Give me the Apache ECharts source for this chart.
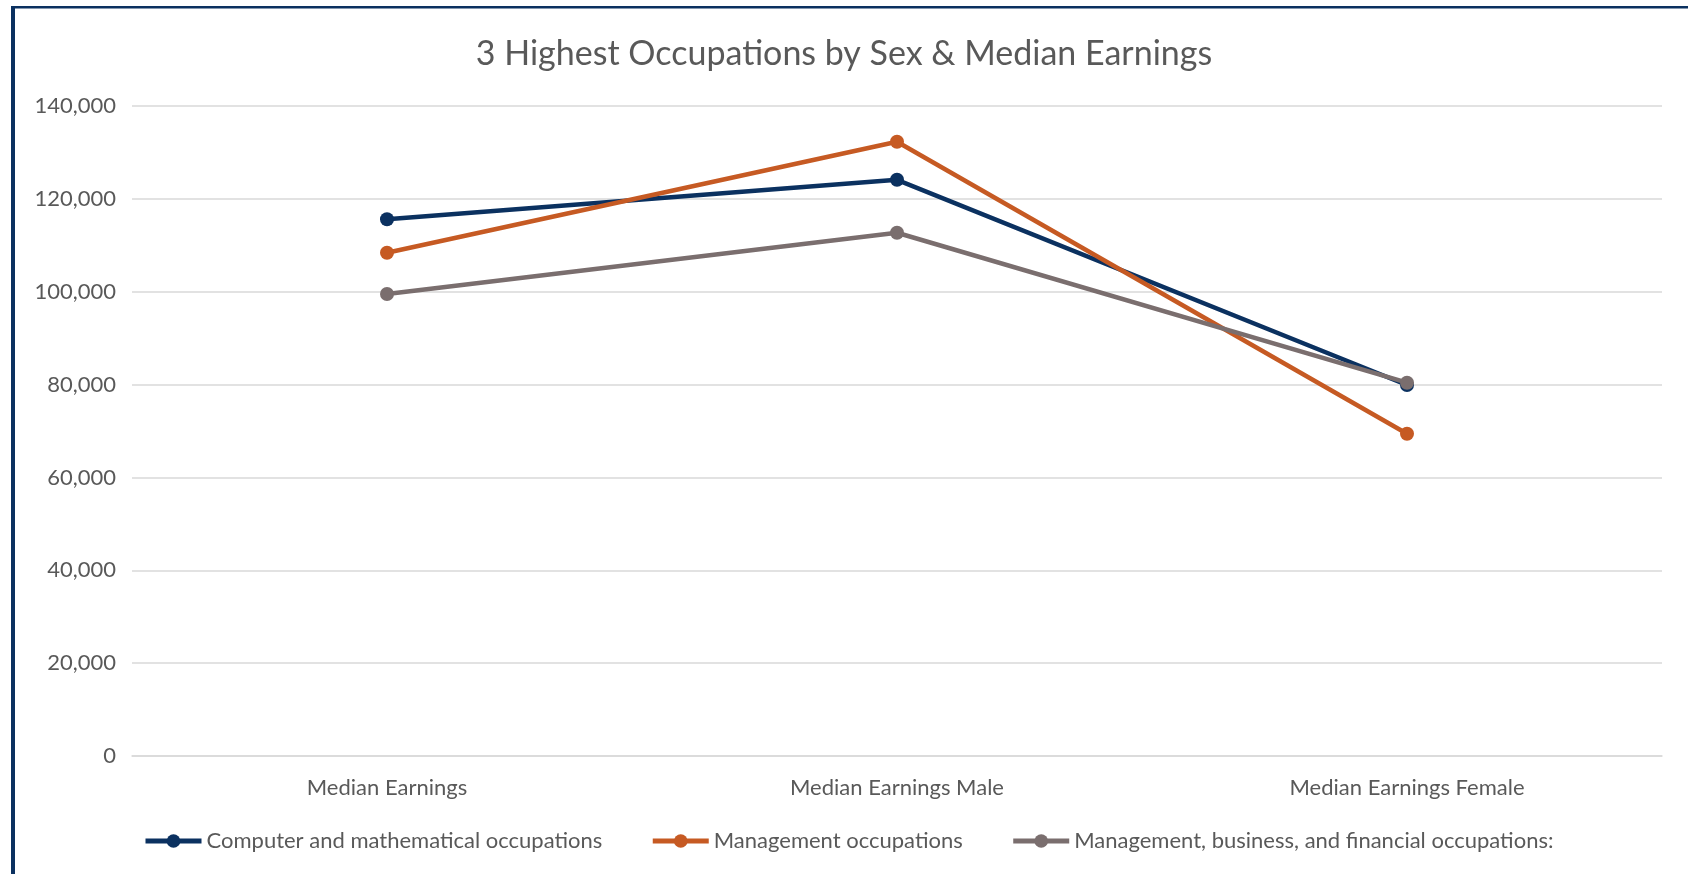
<!DOCTYPE html>
<html>
<head>
<meta charset="utf-8">
<script src="https://cdn.jsdelivr.net/npm/echarts@6/dist/echarts.min.js"></script>
<style>
  html, body { margin: 0; padding: 0; background: #fff; }
  #chart { width: 1688px; height: 874px; }
</style>
</head>
<body>
<div id="chart"></div>
<script>
// categories along the x axis
var categories = ['Median Earnings', 'Median Earnings Male', 'Median Earnings Female']

// series values
var computerMath = [115600, 124100, 79900]
var management = [108400, 132300, 69400]
var mgmtBusinessFinancial = [99500, 112700, 80400]

var seriesNames = [
  'Computer and mathematical occupations',
  'Management occupations',
  'Management, business, and financial occupations:'
]
var colors = ['#0b3160', '#c65a23', '#7a6e6e']

var chart = echarts.init(document.getElementById('chart'))

function lineSeries (name, data, color) {
  return {
    name: name,
    type: 'line',
    data: data,
    symbol: 'circle',
    symbolSize: 14,
    itemStyle: { color: color },
    lineStyle: { color: color, width: 4.5 },
    animation: false
  }
}

chart.setOption({
  textStyle: { fontFamily: 'Lato' },
  title: {
    text: '3 Highest Occupations by Sex & Median Earnings',
    left: 'center',
    top: 32,
    textStyle: { color: '#595959', fontSize: 34, fontWeight: 'normal', fontFamily: 'Lato' }
  },
  graphic: [
    { type: 'rect', shape: { x: 11, y: 6, width: 4, height: 868 }, style: { fill: '#0b3160' } },
    { type: 'rect', shape: { x: 11, y: 6, width: 1677, height: 2.5 }, style: { fill: '#0b3160' } }
  ],
  grid: { left: 132, right: 26, top: 106, bottom: 118 },
  legend: {
    data: seriesNames,
    left: 138,
    top: 825,
    itemWidth: 56,
    itemHeight: 17,
    itemGap: 48,
    lineStyle: { width: 5 },
    textStyle: { color: '#595959', fontSize: 22, fontFamily: 'Lato' }
  },
  xAxis: {
    type: 'category',
    data: categories,
    boundaryGap: true,
    axisLine: { lineStyle: { color: '#d9d9d9', width: 1.5 } },
    axisTick: { show: false },
    axisLabel: { color: '#595959', fontSize: 22, margin: 21 }
  },
  yAxis: {
    type: 'value',
    min: 0,
    max: 140000,
    interval: 20000,
    axisLine: { show: false },
    axisTick: { show: false },
    splitLine: { lineStyle: { color: '#d9d9d9', width: 1.5 } },
    axisLabel: {
      color: '#595959',
      fontSize: 22,
      margin: 16,
      formatter: function (v) { return v.toLocaleString('en-US') }
    }
  },
  series: [
    lineSeries(seriesNames[0], computerMath, colors[0]),
    lineSeries(seriesNames[1], management, colors[1]),
    lineSeries(seriesNames[2], mgmtBusinessFinancial, colors[2])
  ]
})
</script>
</body>
</html>
